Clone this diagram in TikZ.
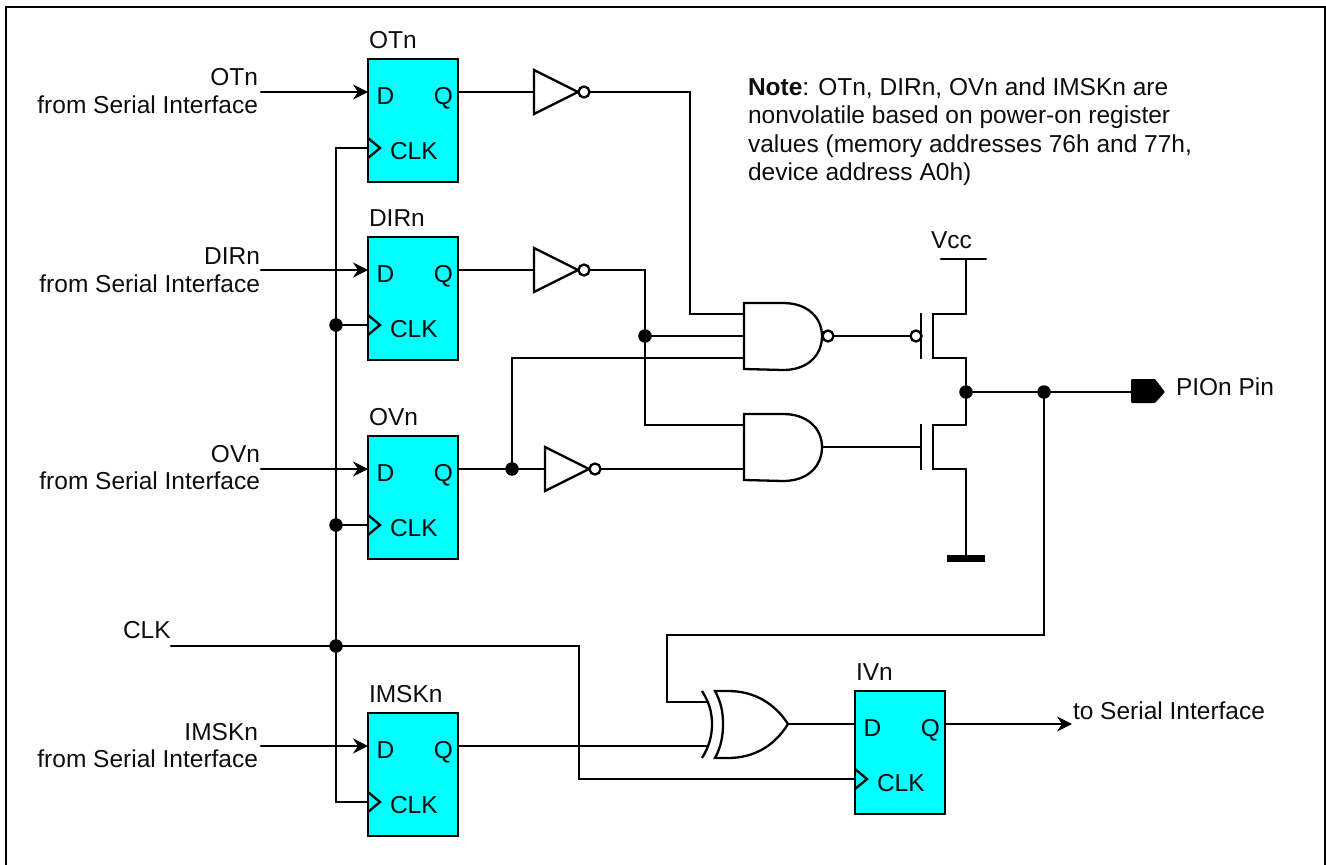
\documentclass[tikz,border=0pt]{standalone}
\usepackage{fontspec}
\setmainfont{Liberation Sans}
\usetikzlibrary{arrows.meta}
\definecolor{ffcyan}{RGB}{0,255,255}
\tikzset{
  wire/.style={line width=2.3pt,line cap=round,line join=miter,color=black},
  sigarrow/.style={wire,-{Stealth[length=15pt,width=15pt,inset=5pt]}},
  gateline/.style={line width=2.3pt,line join=miter,color=black},
  ffbox/.style={draw=black,line width=2.5pt,fill=ffcyan,minimum width=90pt,minimum height=123pt,inner sep=0pt,outer sep=0pt},
  txt/.style={inner sep=0pt,outer sep=0pt,text=black!95,font=\fontsize{24.5}{29}\selectfont},
  dot/.style={circle,fill=black,draw=none,minimum size=13.5pt,inner sep=0pt},
  bubble/.style={circle,fill=white,draw=black,line width=2.3pt,minimum size=11pt,inner sep=0pt}
}
% flip-flop: name, left x, top y, clock offset
\newcommand{\flipflop}[4]{%
  \node[ffbox] (#1) at ({#2+45},{#3+61.5}) {};
  \coordinate (#1-D) at (#2,{#3+33});
  \coordinate (#1-Q) at ({#2+90},{#3+33});
  \coordinate (#1-C) at (#2,{#3+#4});
  \draw[gateline] ({#2},{#3+#4-10}) -- ({#2+12},{#3+#4}) -- ({#2},{#3+#4+10});
  \node[txt,anchor=base west] (#1-dl) at ({#2+8.5},{#3+45}) {D};
  \node[txt,anchor=base east] (#1-ql) at ({#2+85},{#3+45}) {Q};
  \node[txt,anchor=base west] (#1-cl) at ({#2+22},{#3+100.5}) {CLK};
  \node[txt,anchor=base west] (#1-t) at ({#2+1},{#3-11}) {#1};
}
\newcommand{\inverter}[3]{% name, left x, mid y
  \coordinate (#1-in) at (#2,#3);
  \coordinate (#1-out) at ({#2+56},#3);
  \draw[gateline,fill=white] (#2,{#3-22}) -- ({#2+44},#3) -- (#2,{#3+22}) -- cycle;
  \node[bubble] (#1-b) at ({#2+50},#3) {};
}
\newcommand{\andshape}[2]{% left x, top y
  \draw[gateline,fill=white] (#1,#2) -- ({#1+39},#2) .. controls ({#1+64},#2) and ({#1+78},{#2+15}) .. ({#1+78},{#2+33}) .. controls ({#1+78},{#2+52}) and ({#1+64},{#2+67}) .. ({#1+39},{#2+67}) -- (#1,{#2+66}) -- cycle;
}
\newcommand{\mosfet}[1]{% gate bar y-mid
  \draw[gateline] (921,{#1-23}) -- (921,{#1+23});
  \draw[gateline] (966,{#1-22}) -- (933,{#1-22}) -- (933,{#1+22}) -- (966,{#1+22});
}
\begin{document}
\begin{tikzpicture}[x=1pt,y=-1pt]
\useasboundingbox (0,0) rectangle (1326,865);
\draw[line width=2pt] (5.5,866) -- (5.5,7) -- (1325,7) -- (1325,866);
% flip-flops
\flipflop{OTn}{368}{59}{89}
\flipflop{DIRn}{368}{237}{88}
\flipflop{OVn}{368}{436}{89}
\flipflop{IMSKn}{368}{713}{89}
\flipflop{IVn}{855}{691}{88}
% left labels
\node[txt,anchor=base east] (l1a) at (258,85) {OTn};
\node[txt,anchor=base east] (l1b) at (258,113) {from Serial Interface};
\node[txt,anchor=base east] (l2a) at (260,264) {DIRn};
\node[txt,anchor=base east] (l2b) at (260,292) {from Serial Interface};
\node[txt,anchor=base east] (l3a) at (260,462) {OVn};
\node[txt,anchor=base east] (l3b) at (260,489) {from Serial Interface};
\node[txt,anchor=base east] (l4a) at (258,740) {IMSKn};
\node[txt,anchor=base east] (l4b) at (258,767) {from Serial Interface};
\node[txt,anchor=base west] (lclk) at (123,638) {CLK};
% free ends of wires
\coordinate (i1) at (261,92);
\coordinate (i2) at (261,270);
\coordinate (i3) at (261,469);
\coordinate (i4) at (261,746);
\coordinate (clkin) at (171,646);
% input arrows
\draw[sigarrow] (i1) -- (OTn-D);
\draw[sigarrow] (i2) -- (DIRn-D);
\draw[sigarrow] (i3) -- (OVn-D);
\draw[sigarrow] (i4) -- (IMSKn-D);
% clock
\coordinate (cj1) at (336,325);
\coordinate (cj2) at (336,525);
\coordinate (cj3) at (336,646);
\coordinate (cj4) at (579,646);
\coordinate (cj5) at (579,779);
\draw[wire] (OTn-C) -- (336,148) -- (cj1) -- (cj2) -- (cj3) -- (336,802) -- (IMSKn-C);
\draw[wire] (cj1) -- (DIRn-C);
\draw[wire] (cj2) -- (OVn-C);
\draw[wire] (clkin) -- (cj3) -- (cj4) -- (cj5) -- (IVn-C);
\node[dot] (d1) at (cj1) {};
\node[dot] (d2) at (cj2) {};
\node[dot] (d3) at (cj3) {};
% inverters
\inverter{inv1}{534}{92}
\inverter{inv2}{534}{270}
\inverter{inv3}{545}{469}
\draw[wire] (OTn-Q) -- (inv1-in);
\draw[wire] (DIRn-Q) -- (inv2-in);
\draw[wire] (OVn-Q) -- (inv3-in);
% gates
\andshape{744}{303}
\andshape{744}{414}
\node[bubble] (nandb) at (828,336) {};
\coordinate (n1) at (744,314);
\coordinate (n2) at (744,336);
\coordinate (n3) at (744,358);
\coordinate (a1) at (744,425);
\coordinate (a2) at (744,469);
\coordinate (j645) at (645,336);
\coordinate (j512) at (512,469);
\draw[wire] (inv1-out) -- (690,92) -- (690,314) -- (n1);
\draw[wire] (inv2-out) -- (645,270) -- (j645) -- (n2);
\draw[wire] (j645) -- (645,425) -- (a1);
\draw[wire] (j512) -- (512,358) -- (n3);
\draw[wire] (inv3-out) -- (a2);
\node[dot] (d4) at (j645) {};
\node[dot] (d5) at (j512) {};
% transistors
\mosfet{336}
\mosfet{447}
\node[bubble] (gateb) at (916,336) {};
\coordinate (andout) at (822,447);
\coordinate (ngate) at (921,447);
\draw[wire] (nandb) -- (gateb);
\draw[wire] (andout) -- (ngate);
\coordinate (vcc) at (966,259);
\coordinate (vccl) at (941,259);
\coordinate (vccr) at (986,259);
\coordinate (gnd) at (966,555);
\coordinate (pm) at (966,392);
\coordinate (j1044) at (1044,392);
\coordinate (pin) at (1131,392);
\draw[wire] (vccl) -- (vccr);
\draw[wire] (vcc) -- (966,314);
\draw[wire] (966,358) -- (966,425);
\draw[wire] (966,469) -- (gnd);
\fill[black] (947,555) rectangle (985,562);
\node[txt,anchor=base west] (vcct) at (931,248) {Vcc};
\draw[wire] (pm) -- (pin);
\fill[black,rounded corners=1pt] (1131,379) -- (1155,379) -- (1165,392) -- (1155,403) -- (1131,403) -- cycle;
\node[txt,anchor=base west] (pint) at (1176,395) {PIOn Pin};
\node[dot] (d6) at (pm) {};
\node[dot] (d7) at (j1044) {};
% xor
\draw[gateline] (702,691) .. controls (709,702) and (712,712) .. (712,724) .. controls (712,736) and (709,747) .. (702,758);
\draw[gateline,fill=white] (715,691) -- (728,691) .. controls (755,691) and (775,704) .. (788,724) .. controls (775,745) and (755,758) .. (728,758) -- (715,758) .. controls (721,747) and (723,736) .. (723,724) .. controls (723,712) and (721,702) .. (715,691) -- cycle;
\coordinate (x1) at (708,702);
\coordinate (x2) at (708,746);
\coordinate (xo) at (788,724);
\draw[wire] (j1044) -- (1044,635) -- (667,635) -- (667,702) -- (x1);
\draw[wire] (IMSKn-Q) -- (x2);
\draw[wire] (xo) -- (IVn-D);
\coordinate (toserial) at (1072,724);
\draw[sigarrow] (IVn-Q) -- (toserial);
\node[txt,anchor=base west] (tst) at (1073,719) {to Serial Interface};
% note
\node[txt,anchor=base west] (note1) at (748,95) {\textbf{Note}: OTn, DIRn, OVn and IMSKn are};
\node[txt,anchor=base west] (note2) at (748,123) {nonvolatile based on power-on register};
\node[txt,anchor=base west] (note3) at (748,152) {values (memory addresses 76h and 77h,};
\node[txt,anchor=base west] (note4) at (748,180) {device address A0h)};
\end{tikzpicture}
\end{document}
